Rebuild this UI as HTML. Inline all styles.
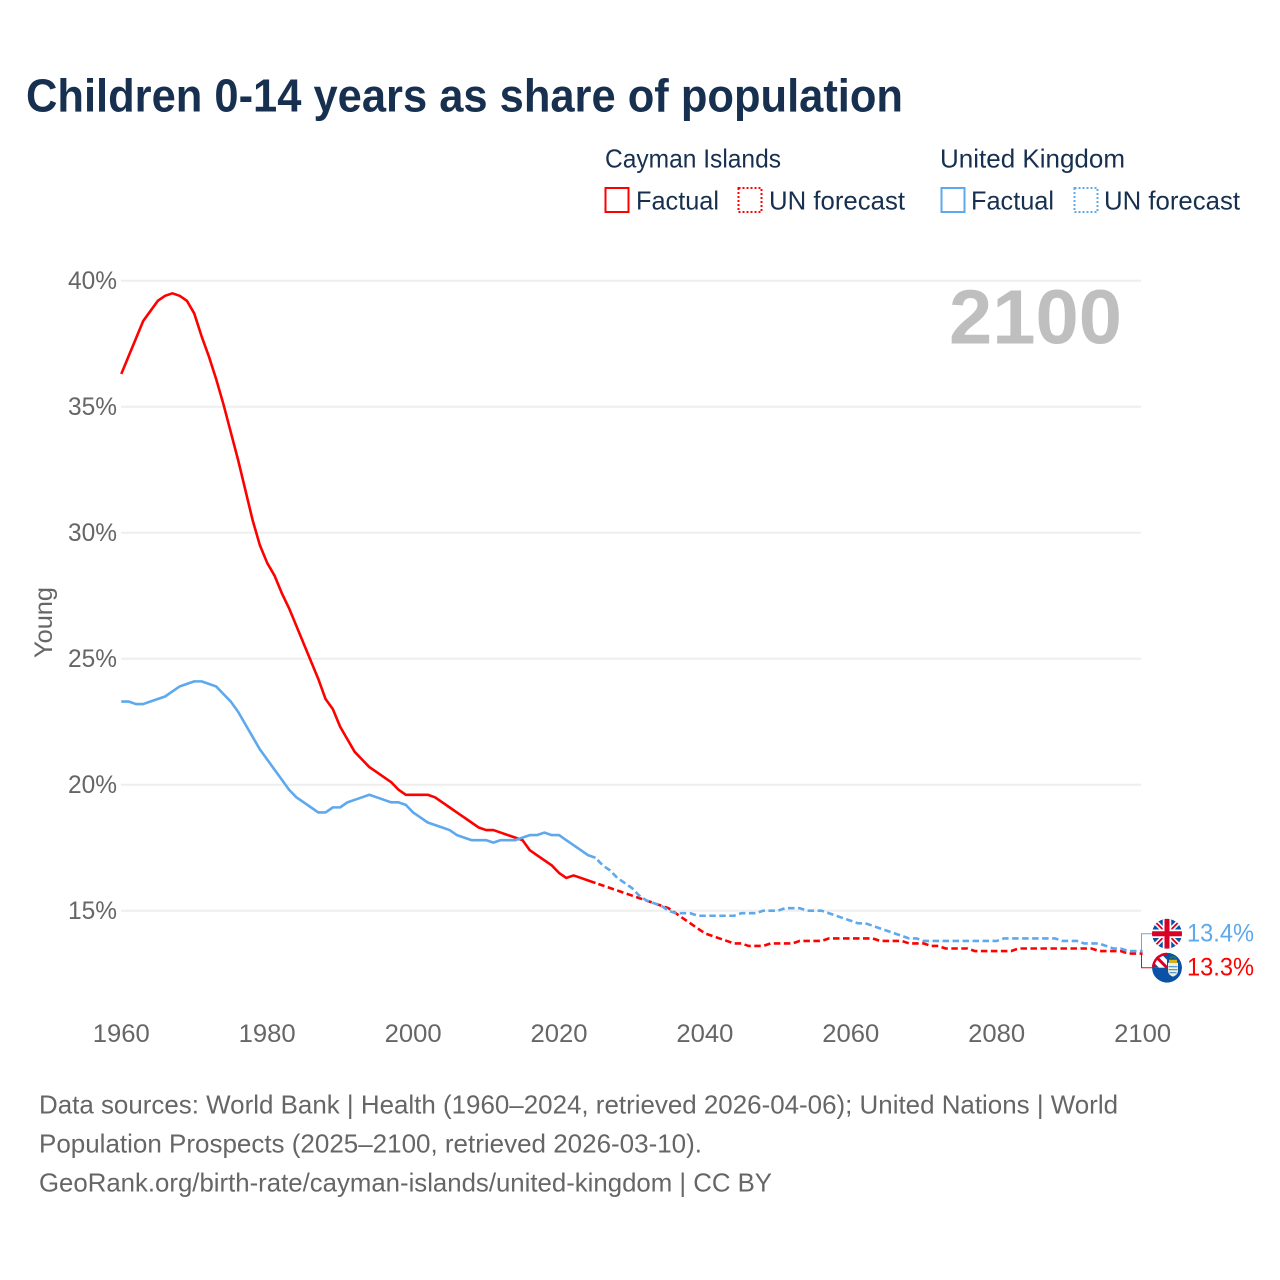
<!DOCTYPE html>
<html lang="en">
<head>
<meta charset="utf-8">
<title>Children 0-14 years as share of population</title>
<style>
html,body{margin:0;padding:0;background:#fff;}
svg{display:block;}
text{font-family:"Liberation Sans",sans-serif;}
</style>
</head>
<body>
<svg id="chart" xmlns="http://www.w3.org/2000/svg" width="1280" height="1280" viewBox="0 0 1280 1280">
  <defs>
    <clipPath id="flag-clip-uk"><circle cx="0" cy="0" r="15"/></clipPath>
    <clipPath id="flag-clip-ky"><circle cx="0" cy="0" r="15"/></clipPath>
  </defs>
  <rect x="0" y="0" width="1280" height="1280" fill="#fff"/>
  <text x="26" y="111.5" font-size="46" font-weight="700" fill="#17304f" textLength="877" lengthAdjust="spacingAndGlyphs">Children 0-14 years as share of population</text>

  <g font-size="26" fill="#17304f">
    <text x="605" y="167.5" textLength="176" lengthAdjust="spacingAndGlyphs">Cayman Islands</text>
    <text x="940" y="167.5" textLength="185" lengthAdjust="spacingAndGlyphs">United Kingdom</text>
    <rect x="605.5" y="188" width="23" height="24" fill="none" stroke="#ff0000" stroke-width="2"/>
    <text x="636" y="209.5" textLength="83" lengthAdjust="spacingAndGlyphs">Factual</text>
    <rect x="738.5" y="188" width="23" height="24" fill="none" stroke="#ff0000" stroke-width="2" stroke-dasharray="2 2"/>
    <text x="769" y="209.5" textLength="136" lengthAdjust="spacingAndGlyphs">UN forecast</text>
    <rect x="941.5" y="188" width="23" height="24" fill="none" stroke="#5ea9ee" stroke-width="2"/>
    <text x="971" y="209.5" textLength="83" lengthAdjust="spacingAndGlyphs">Factual</text>
    <rect x="1074.5" y="188" width="23" height="24" fill="none" stroke="#5ea9ee" stroke-width="2" stroke-dasharray="2 2"/>
    <text x="1104" y="209.5" textLength="136" lengthAdjust="spacingAndGlyphs">UN forecast</text>
  </g>

  <g id="grid"></g>
  <g id="y-ticks"></g>
  <g id="x-ticks"></g>
  <text transform="translate(52 622.5) rotate(-90)" text-anchor="middle" font-size="25" fill="#666" textLength="71" lengthAdjust="spacingAndGlyphs">Young</text>
  <text x="949" y="343.5" font-size="77" font-weight="700" fill="#bfbfbf" textLength="173" lengthAdjust="spacingAndGlyphs">2100</text>

  <g id="series"></g>
  <g id="end-labels"></g>

  <g font-size="26" fill="#666">
    <text x="39" y="1113.5" textLength="1079" lengthAdjust="spacingAndGlyphs">Data sources: World Bank | Health (1960–2024, retrieved 2026-04-06); United Nations | World</text>
    <text x="39" y="1152.5" textLength="663" lengthAdjust="spacingAndGlyphs">Population Prospects (2025–2100, retrieved 2026-03-10).</text>
    <text x="39" y="1191.5" textLength="733" lengthAdjust="spacingAndGlyphs">GeoRank.org/birth-rate/cayman-islands/united-kingdom | CC BY</text>
  </g>
</svg>
<script>
const firstYear = 1960;
const lastFactualYear = 2025;
const yTickValues = [15, 20, 25, 30, 35, 40];
const xTickYears = [1960, 1980, 2000, 2020, 2040, 2060, 2080, 2100];
const caymanValues = [
  36.3,37.0,37.7,38.4,38.8,39.2,39.4,39.5,39.4,39.2,
  38.7,37.8,37.0,36.1,35.1,34.0,32.9,31.7,30.5,29.5,
  28.8,28.3,27.6,27.0,26.3,25.6,24.9,24.2,23.4,23.0,
  22.3,21.8,21.3,21.0,20.7,20.5,20.3,20.1,19.8,19.6,
  19.6,19.6,19.6,19.5,19.3,19.1,18.9,18.7,18.5,18.3,
  18.2,18.2,18.1,18.0,17.9,17.8,17.4,17.2,17.0,16.8,
  16.5,16.3,16.4,16.3,16.2,16.1,16.0,15.9,15.8,15.7,
  15.6,15.5,15.4,15.3,15.2,15.1,14.9,14.7,14.5,14.3,
  14.1,14.0,13.9,13.8,13.7,13.7,13.6,13.6,13.6,13.7,
  13.7,13.7,13.7,13.8,13.8,13.8,13.8,13.9,13.9,13.9,
  13.9,13.9,13.9,13.9,13.8,13.8,13.8,13.8,13.7,13.7,
  13.7,13.6,13.6,13.5,13.5,13.5,13.5,13.4,13.4,13.4,
  13.4,13.4,13.4,13.5,13.5,13.5,13.5,13.5,13.5,13.5,
  13.5,13.5,13.5,13.5,13.4,13.4,13.4,13.4,13.3,13.3,
  13.3
];
const ukValues = [
  23.3,23.3,23.2,23.2,23.3,23.4,23.5,23.7,23.9,24.0,
  24.1,24.1,24.0,23.9,23.6,23.3,22.9,22.4,21.9,21.4,
  21.0,20.6,20.2,19.8,19.5,19.3,19.1,18.9,18.9,19.1,
  19.1,19.3,19.4,19.5,19.6,19.5,19.4,19.3,19.3,19.2,
  18.9,18.7,18.5,18.4,18.3,18.2,18.0,17.9,17.8,17.8,
  17.8,17.7,17.8,17.8,17.8,17.9,18.0,18.0,18.1,18.0,
  18.0,17.8,17.6,17.4,17.2,17.1,16.8,16.6,16.3,16.1,
  15.9,15.6,15.4,15.3,15.2,15.0,14.9,14.9,14.9,14.8,
  14.8,14.8,14.8,14.8,14.8,14.9,14.9,14.9,15.0,15.0,
  15.0,15.1,15.1,15.1,15.0,15.0,15.0,14.9,14.8,14.7,
  14.6,14.5,14.5,14.4,14.3,14.2,14.1,14.0,13.9,13.9,
  13.8,13.8,13.8,13.8,13.8,13.8,13.8,13.8,13.8,13.8,
  13.8,13.9,13.9,13.9,13.9,13.9,13.9,13.9,13.9,13.8,
  13.8,13.8,13.7,13.7,13.7,13.6,13.5,13.5,13.4,13.4,
  13.4
];

const NS = 'http://www.w3.org/2000/svg';
const RED = '#ff0000';
const BLUE = '#5ea9ee';

function xScale(year) { return 121.3 + (year - 1960) * 7.295; }
function yScale(value) { return 280.7 + (40 - value) * 25.2; }

function make(tag, parent, attrs) {
  const el = document.createElementNS(NS, tag);
  for (const k in attrs) el.setAttribute(k, attrs[k]);
  parent.appendChild(el);
  return el;
}

const gridGroup = document.getElementById('grid');
const yTickGroup = document.getElementById('y-ticks');
const xTickGroup = document.getElementById('x-ticks');
const seriesGroup = document.getElementById('series');
const endGroup = document.getElementById('end-labels');

yTickValues.forEach(function (v) {
  const line = make('line', gridGroup, { x1: 121, x2: 1141, y1: yScale(v), y2: yScale(v), stroke: '#eeeeee', 'stroke-width': 2 });
  
  
  const label = make('text', yTickGroup, { x: 117, y: yScale(v) + 8.5, 'text-anchor': 'end', 'font-size': 25, fill: '#666', textLength: 49, lengthAdjust: 'spacingAndGlyphs' });
  label.textContent = v + '%';
  
  
});

xTickYears.forEach(function (year) {
  const label = make('text', xTickGroup, { x: xScale(year), y: 1042, 'text-anchor': 'middle', 'font-size': 25, fill: '#666', textLength: 57, lengthAdjust: 'spacingAndGlyphs' });
  label.textContent = String(year);
  
  
});

function pathFor(values, fromYear, toYear) {
  const parts = [];
  for (let y = fromYear; y <= toYear; y++) {
    const v = values[y - firstYear];
    parts.push((parts.length ? 'L' : 'M') + xScale(y).toFixed(2) + ' ' + yScale(v).toFixed(2));
  }
  return parts.join(' ');
}

function drawSeries(values, color, key) {
  const endYear = firstYear + values.length - 1;
  const solid = make('path', seriesGroup, { d: pathFor(values, firstYear, lastFactualYear), fill: 'none', stroke: color, 'stroke-width': 2.6, 'stroke-linejoin': 'round' });
  
  
  const dashed = make('path', seriesGroup, { d: pathFor(values, lastFactualYear, endYear), fill: 'none', stroke: color, 'stroke-width': 2.6, 'stroke-dasharray': '6.5 3.5', 'stroke-dashoffset': -3 });
  
  
}

drawSeries(caymanValues, RED, 'cayman-islands');
drawSeries(ukValues, BLUE, 'united-kingdom');

function drawEnd(values, color, key, flagY, flagDraw) {
  const last = values[values.length - 1];
  const lineEndY = yScale(last);
  const connector = make('path', endGroup, { d: 'M1141.5 ' + lineEndY.toFixed(1) + 'V' + flagY.toFixed(1) + 'H1153', fill: 'none', stroke: color, 'stroke-width': 1 });
  
  
  const flag = make('g', endGroup, { transform: 'translate(1167 ' + flagY.toFixed(1) + ')' });
  
  
  flagDraw(flag);
  const label = make('text', endGroup, { x: 1187, y: flagY + 8, 'font-size': 25, fill: color, textLength: 67, lengthAdjust: 'spacingAndGlyphs' });
  label.textContent = last.toFixed(1) + '%';
  
  
}

function ukFlag(flag) {
  const inner = make('g', flag, { 'clip-path': 'url(#flag-clip-uk)' });
  make('circle', inner, { cx: 0, cy: 0, r: 15, fill: '#0a52a5' });
  make('path', inner, { d: 'M-15 -15L15 15M15 -15L-15 15', stroke: '#fff', 'stroke-width': 5 });
  make('path', inner, { d: 'M-15 -15L15 15M15 -15L-15 15', stroke: '#d80027', 'stroke-width': 1.8 });
  make('path', inner, { d: 'M0 -15V15M-15 0H15', stroke: '#fff', 'stroke-width': 8.5 });
  make('path', inner, { d: 'M0 -15V15M-15 0H15', stroke: '#d80027', 'stroke-width': 5 });
}

function caymanFlag(flag) {
  const inner = make('g', flag, { 'clip-path': 'url(#flag-clip-ky)' });
  make('circle', inner, { cx: 0, cy: 0, r: 15, fill: '#0a52a5' });
  make('rect', inner, { x: -15, y: -15, width: 15, height: 15, fill: '#fff' });
  make('path', inner, { d: 'M-7 -15H0V-8ZM-15 -7L-8 0H-15Z', fill: '#0a52a5' });
  make('path', inner, { d: 'M-12 -12L0 0', stroke: '#d80027', 'stroke-width': 3 });
  make('path', inner, { d: 'M-14 0A14 14 0 0 1 0 -14', fill: 'none', stroke: '#d80027', 'stroke-width': 3 });
  make('path', inner, { d: 'M1 -5H11V3Q11 7 6 9Q1 7 1 3Z', fill: '#f4f0d8' });
  make('path', inner, { d: 'M1.5 -1H10.5M1.5 2H10.5M2.5 5H9.5', stroke: '#3a8fd0', 'stroke-width': 1.2 });
  make('path', inner, { d: 'M2 -8H10V-5H2Z', fill: '#e0b400' });
  make('path', inner, { d: 'M3 -9.5Q6 -12 9 -9.5', fill: 'none', stroke: '#2f7d32', 'stroke-width': 1.6 });
}

const endMid = (yScale(ukValues[ukValues.length - 1]) + yScale(caymanValues[caymanValues.length - 1])) / 2;
drawEnd(ukValues, BLUE, 'united-kingdom', endMid - 18.6, ukFlag);
drawEnd(caymanValues, RED, 'cayman-islands', endMid + 15.4, caymanFlag);
</script>
</body>
</html>
